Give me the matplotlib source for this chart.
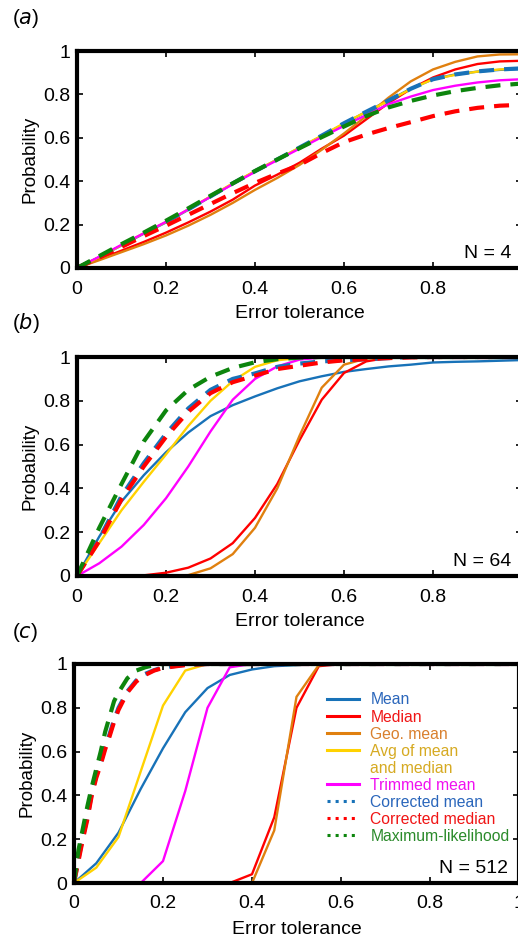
import matplotlib
matplotlib.use("Agg")
import matplotlib.pyplot as plt
from matplotlib.lines import Line2D

plt.rcParams['font.family'] = ['Liberation Sans', 'DejaVu Sans']

# error tolerance grid
x = [0, 0.05, 0.1, 0.15, 0.2, 0.25, 0.3, 0.35, 0.4, 0.45, 0.5,
     0.55, 0.6, 0.65, 0.7, 0.75, 0.8, 0.85, 0.9, 0.95, 1.0]
# finer grid used by the corrected estimators at N = 512
x_fine = [0, 0.01, 0.02, 0.03, 0.04, 0.05, 0.06, 0.07, 0.08, 0.09, 0.1,
          0.12, 0.14, 0.16, 0.18, 0.2, 0.25, 0.3, 1.0]

# ---- N = 4 ----
mean_4 = [0, 0.05, 0.104, 0.158, 0.21, 0.268, 0.328, 0.388, 0.445, 0.5, 0.553,
          0.608, 0.665, 0.72, 0.772, 0.826, 0.87, 0.892, 0.905, 0.913, 0.918]
median_4 = [0, 0.04, 0.08, 0.12, 0.163, 0.21, 0.26, 0.315, 0.38, 0.43, 0.485,
            0.55, 0.61, 0.685, 0.76, 0.825, 0.878, 0.915, 0.94, 0.952, 0.955]
geo_4 = [0, 0.036, 0.073, 0.11, 0.15, 0.195, 0.245, 0.3, 0.36, 0.415, 0.475,
         0.545, 0.62, 0.7, 0.785, 0.86, 0.915, 0.95, 0.975, 0.984, 0.985]
avg_4 = [0, 0.05, 0.105, 0.16, 0.212, 0.27, 0.33, 0.39, 0.447, 0.5, 0.555,
         0.61, 0.667, 0.72, 0.77, 0.825, 0.87, 0.89, 0.905, 0.915, 0.92]
trim_4 = [0, 0.052, 0.107, 0.16, 0.213, 0.27, 0.328, 0.386, 0.443, 0.497, 0.55,
          0.603, 0.655, 0.705, 0.755, 0.79, 0.82, 0.84, 0.855, 0.865, 0.87]
cmean_4 = [0, 0.05, 0.104, 0.16, 0.212, 0.27, 0.33, 0.39, 0.446, 0.5, 0.555,
           0.61, 0.667, 0.72, 0.772, 0.826, 0.87, 0.892, 0.906, 0.915, 0.92]
cmed_4 = [0, 0.048, 0.097, 0.147, 0.195, 0.245, 0.295, 0.345, 0.392, 0.435, 0.475,
          0.53, 0.58, 0.615, 0.645, 0.672, 0.7, 0.722, 0.738, 0.748, 0.752]
ml_4 = [0, 0.055, 0.11, 0.163, 0.218, 0.275, 0.333, 0.39, 0.447, 0.5, 0.552,
        0.603, 0.652, 0.7, 0.74, 0.77, 0.795, 0.815, 0.83, 0.842, 0.85]

# ---- N = 64 ----
mean_64 = [0, 0.18, 0.34, 0.46, 0.565, 0.655, 0.73, 0.78, 0.82, 0.857, 0.889,
           0.912, 0.932, 0.945, 0.957, 0.965, 0.975, 0.978, 0.98, 0.983, 0.986]
median_64 = [0, 0, 0.001, 0.003, 0.015, 0.038, 0.08, 0.15, 0.265, 0.42, 0.62,
             0.805, 0.927, 0.98, 0.997, 1, 1, 1, 1, 1, 1]
geo_64 = [0, 0, 0, 0, 0, 0.004, 0.035, 0.1, 0.22, 0.4, 0.64,
          0.86, 0.965, 0.993, 1, 1, 1, 1, 1, 1, 1]
avg_64 = [0, 0.15, 0.3, 0.43, 0.555, 0.685, 0.8, 0.89, 0.955, 0.985, 0.996,
          1, 1, 1, 1, 1, 1, 1, 1, 1, 1]
trim_64 = [0, 0.058, 0.134, 0.233, 0.355, 0.5, 0.66, 0.805, 0.9, 0.957, 0.988,
           0.998, 1, 1, 1, 1, 1, 1, 1, 1, 1]
cmean_64 = [0, 0.17, 0.365, 0.515, 0.65, 0.765, 0.85, 0.9, 0.925, 0.955, 0.97,
            0.98, 0.985, 0.99, 0.995, 1, 1, 1, 1, 1, 1]
cmed_64 = [0, 0.16, 0.35, 0.5, 0.635, 0.75, 0.835, 0.885, 0.915, 0.945, 0.96,
           0.975, 0.985, 0.99, 0.995, 0.998, 1, 1, 1, 1, 1]
ml_64 = [0, 0.22, 0.42, 0.614, 0.756, 0.85, 0.91, 0.95, 0.976, 0.99, 0.997,
         1, 1, 1, 1, 1, 1, 1, 1, 1, 1]

# ---- N = 512 ----
mean_512 = [0, 0.09, 0.23, 0.43, 0.615, 0.78, 0.89, 0.95, 0.975, 0.99, 0.995,
            1, 1, 1, 1, 1, 1, 1, 1, 1, 1]
median_512 = [0, 0, 0, 0, 0, 0, 0, 0, 0.04, 0.3, 0.8,
              0.99, 1, 1, 1, 1, 1, 1, 1, 1, 1]
geo_512 = [0, 0, 0, 0, 0, 0, 0, 0, 0, 0.24, 0.85,
           0.995, 1, 1, 1, 1, 1, 1, 1, 1, 1]
avg_512 = [0, 0.07, 0.21, 0.51, 0.81, 0.97, 1, 1, 1, 1, 1,
           1, 1, 1, 1, 1, 1, 1, 1, 1, 1]
trim_512 = [0, 0, 0, 0, 0.1, 0.42, 0.8, 0.985, 1, 1, 1,
            1, 1, 1, 1, 1, 1, 1, 1, 1, 1]
cmean_512 = [0, 0.11, 0.21, 0.3, 0.41, 0.49, 0.55, 0.62, 0.68, 0.745, 0.8,
             0.875, 0.925, 0.955, 0.972, 0.985, 0.996, 1, 1]
cmed_512 = [0, 0.1, 0.2, 0.29, 0.4, 0.48, 0.54, 0.61, 0.67, 0.735, 0.79,
            0.87, 0.92, 0.95, 0.97, 0.982, 0.995, 1, 1]
ml_512 = [0, 0.15, 0.25, 0.35, 0.44, 0.52, 0.6, 0.69, 0.76, 0.83, 0.87,
          0.935, 0.97, 0.985, 0.995, 1, 1, 1, 1]

panels = [
    ("a", "N = 4", mean_4, median_4, geo_4, avg_4, trim_4, x, cmean_4, cmed_4, ml_4),
    ("b", "N = 64", mean_64, median_64, geo_64, avg_64, trim_64, x, cmean_64, cmed_64, ml_64),
    ("c", "N = 512", mean_512, median_512, geo_512, avg_512, trim_512, x_fine, cmean_512, cmed_512, ml_512),
]

c_mean = '#1872b8'
c_med = '#ff0000'
c_geo = '#e0800f'
c_avg = '#ffd200'
c_trim = '#ff00ff'
c_ml = '#0d850d'

W, H = 518, 943
fig = plt.figure(figsize=(W / 100, H / 100), dpi=100)

# axes boxes in pixels: left, right, top, bottom
boxes = [(77, 522, 51, 268), (77, 522, 357, 576), (74, 519, 664, 883)]
label_y = [18, 323, 632]
xlabel_y = [313, 622, 930]

tick_vals = [0, 0.2, 0.4, 0.6, 0.8, 1]
tick_text = ["0", "0.2", "0.4", "0.6", "0.8", "1"]

axes = []
for i, (tag, ntext, m, md, g, av, tr, xd, cm, cmd, ml) in enumerate(panels):
    l, r, t, b = boxes[i]
    ax = fig.add_axes([l / W, 1 - b / H, (r - l) / W, (b - t) / H])
    axes.append(ax)

    ax.plot(x, m, color=c_mean, lw=1.7)
    ax.plot(x, md, color=c_med, lw=1.7)
    ax.plot(x, g, color=c_geo, lw=1.7)
    ax.plot(x, av, color=c_avg, lw=1.7)
    ax.plot(x, tr, color=c_trim, lw=1.7)
    ax.plot(xd, cm, color=c_mean, lw=3, dashes=(3.6, 2.4))
    ax.plot(xd, cmd, color=c_med, lw=3, dashes=(3.6, 2.4))
    ax.plot(xd, ml, color=c_ml, lw=3, dashes=(3.6, 2.4))

    ax.set_xlim(0, 1)
    ax.set_ylim(0, 1)
    ax.set_xticks(tick_vals)
    ax.set_xticklabels(tick_text)
    ax.set_yticks(tick_vals)
    ax.set_yticklabels(tick_text)
    ax.tick_params(direction='in', length=4, width=1.2, labelsize=14,
                   top=True, right=True)
    ax.tick_params(axis='x', pad=9)
    ax.tick_params(axis='y', pad=5)
    for s in ax.spines.values():
        s.set_linewidth(3)
    ax.set_ylabel("Probability", fontsize=13.5, labelpad=3)

    ax.text(0.975, 0.065, ntext, transform=ax.transAxes, ha='right',
            va='center', fontsize=14)

    cx = (l + r) / 2
    fig.text(cx / W, 1 - xlabel_y[i] / H, "Error tolerance", ha='center',
             va='center', fontsize=14)
    fig.text(12 / W, 1 - label_y[i] / H, "(" + r"$\it{" + tag + "}$" + ")",
             ha='left', va='center', fontsize=15)

# legend with dotted samples for the corrected estimators
handles = [
    Line2D([], [], color=c_mean, lw=2.2),
    Line2D([], [], color=c_med, lw=2.2),
    Line2D([], [], color=c_geo, lw=2.2),
    Line2D([], [], color=c_avg, lw=2.2),
    Line2D([], [], color='none'),
    Line2D([], [], color=c_trim, lw=2.2),
    Line2D([], [], color=c_mean, lw=2.2, ls=':'),
    Line2D([], [], color=c_med, lw=2.2, ls=':'),
    Line2D([], [], color=c_ml, lw=2.2, ls=':'),
]
labels = ["Mean", "Median", "Geo. mean", "Avg of mean", "and median",
          "Trimmed mean", "Corrected mean", "Corrected median",
          "Maximum-likelihood"]
text_colors = ['#2a66bb', '#f01515', '#d9802e', '#d6aa22', '#d6aa22',
               '#f010f0', '#2a66bb', '#f01515', '#2a8a2a']
axes[2].legend(handles, labels, loc='upper left', bbox_to_anchor=(0.569, 0.87),
               frameon=False, fontsize=11.3, handlelength=2.0, handletextpad=0.75,
               labelspacing=0.13, borderpad=0, borderaxespad=0,
               labelcolor=text_colors)

fig.savefig("out.png", dpi=100)
